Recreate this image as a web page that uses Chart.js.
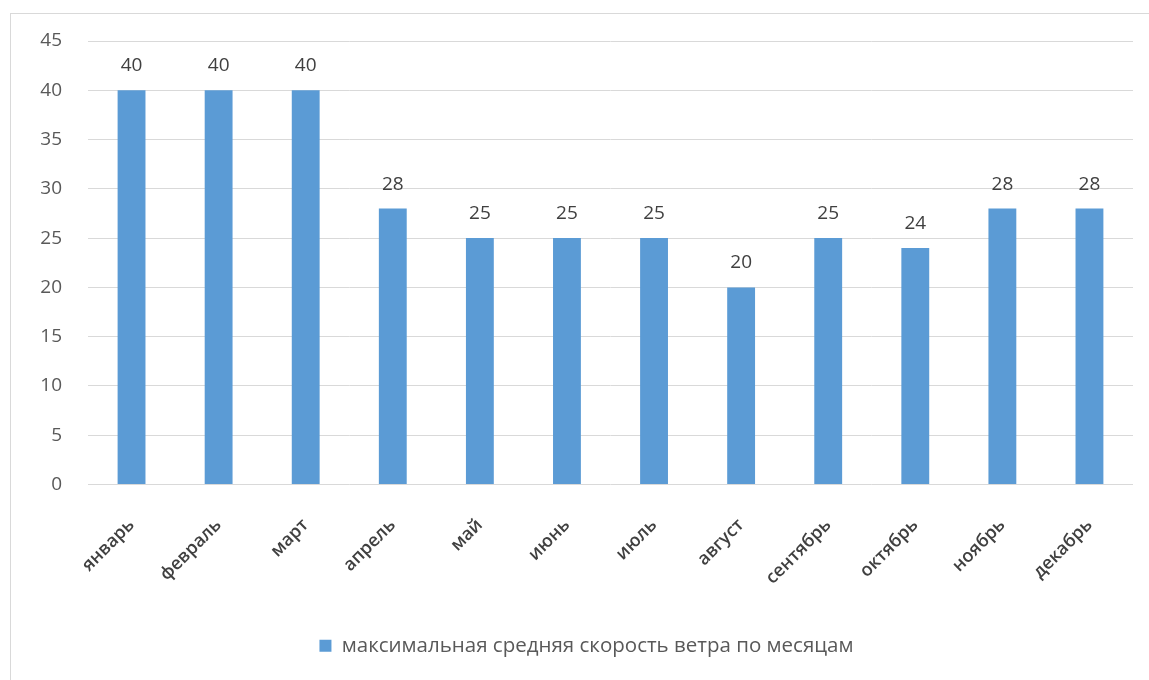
<!DOCTYPE html>
<html>
<head>
<meta charset="utf-8">
<script src="https://cdn.jsdelivr.net/npm/chart.js@4.4.1/dist/chart.umd.min.js"></script>
<style>
    html, body { margin: 0; padding: 0; background: #fff; }
    #wrap { position: relative; width: 1149px; height: 680px; overflow: hidden; }
    #frame {
        position: absolute; left: 10px; top: 13px; width: 1160px; height: 700px;
        border: 1px solid #d9d9d9; box-sizing: border-box;
    }
    canvas { position: absolute; left: 0; top: 0; }
</style>
</head>
<body>
<div id="wrap">
    <div id="frame"></div>
    <canvas id="chart" width="1149" height="680"></canvas>
</div>
<script>
// Months and the maximum average wind speed for each.
const months = [
    'январь', 'февраль', 'март', 'апрель', 'май', 'июнь',
    'июль', 'август', 'сентябрь', 'октябрь', 'ноябрь', 'декабрь',
];
const maxWind = [40, 40, 40, 28, 25, 25, 25, 20, 25, 24, 28, 28];
const seriesName = 'максимальная средняя скорость ветра по месяцам';
const yMin = 0;
const yMax = 45;
const yStep = 5;

const FONT = '"Open Sans", "Noto Sans", sans-serif';
const BAR = '#5b9bd5';

// Value labels above each bar.
const valueLabels = {
    id: 'valueLabels',
    afterDatasetsDraw(chart) {
        const ctx = chart.ctx;
        const meta = chart.getDatasetMeta(0);
        const data = chart.data.datasets[0].data;
        ctx.save();
        ctx.font = '19px ' + FONT;
        ctx.fillStyle = '#404040';
        ctx.textAlign = 'center';
        ctx.textBaseline = 'alphabetic';
        meta.data.forEach((bar, i) => {
            ctx.fillText(String(data[i]), bar.x, bar.y - 19);
        });
        ctx.restore();
    },
};

// Nudge the legend a little to the right of the canvas centre.
const legendShift = {
    id: 'legendShift',
    afterLayout(chart) {
        chart.legend.left += 20;
        chart.legend.right += 20;
    },
};

const chart = new Chart(document.getElementById('chart'), {
    type: 'bar',
    data: {
        labels: months,
        datasets: [{
            label: seriesName,
            data: maxWind,
            backgroundColor: BAR,
            borderWidth: 0,
            barPercentage: 0.64,
            categoryPercentage: 0.5,
        }],
    },
    options: {
        responsive: false,
        animation: false,
        events: [],
        layout: {
            padding: { left: 0, right: 16, top: 41, bottom: 14 },
        },
        plugins: {
            tooltip: { enabled: false },
            legend: {
                position: 'bottom',
                labels: {
                    boxWidth: 12,
                    boxHeight: 12,
                    color: '#595959',
                    font: { family: FONT, size: 20.5 },
                    padding: 10,
                },
            },
        },
        scales: {
            x: {
                grid: { display: false },
                border: { display: false },
                ticks: {
                    color: '#404040',
                    font: { family: FONT, size: 18, weight: '600' },
                    minRotation: 45,
                    maxRotation: 45,
                    padding: 22,
                },
                afterFit(scale) { scale.height = 141; },
            },
            y: {
                min: yMin,
                max: yMax,
                grid: { color: '#d9d9d9', lineWidth: 1, drawTicks: false },
                border: { display: false },
                ticks: {
                    stepSize: yStep,
                    color: '#595959',
                    font: { family: FONT, size: 19 },
                    padding: 26,
                },
                afterFit(scale) { scale.width = 88; },
            },
        },
    },
    plugins: [valueLabels, legendShift],
});
</script>
</body>
</html>
